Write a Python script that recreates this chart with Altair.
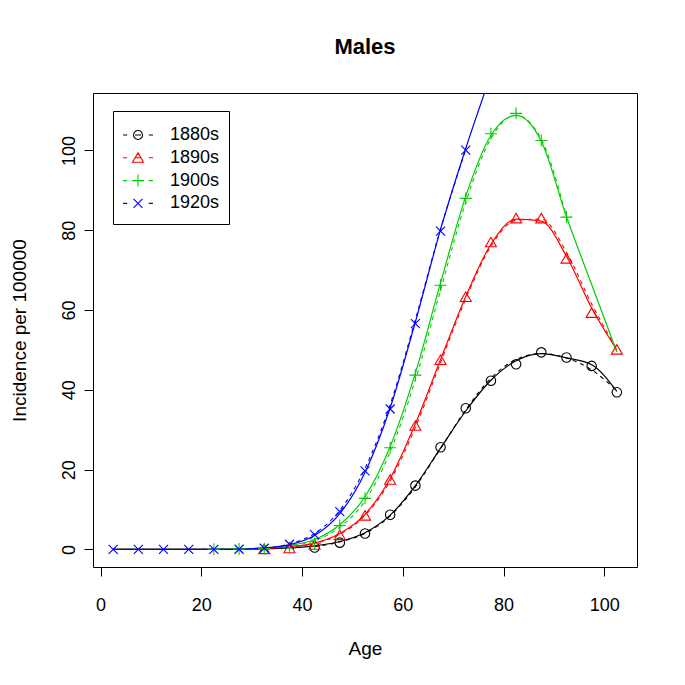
import altair as alt
import pandas as pd

cohorts = ["1880s", "1890s", "1900s", "1920s"]
colors = ["#000000", "#FF0000", "#00CD00", "#0000FF"]

# fitted curve ages (full range)
fit_ages = [2.5, 7.5, 12.5, 17.5, 22.5, 27.5, 32.5, 37.5, 42.5, 47.5, 52.5,
            57.5, 62.5, 67.5, 72.5, 77.5, 82.5, 87.5, 92.5, 97.5, 102.5]

# observed ages per cohort
ages_1880 = [42.5, 47.5, 52.5, 57.5, 62.5, 67.5, 72.5, 77.5, 82.5, 87.5, 92.5, 97.5, 102.5]
ages_1890 = [32.5, 37.5, 42.5, 47.5, 52.5, 57.5, 62.5, 67.5, 72.5, 77.5, 82.5, 87.5, 92.5, 97.5, 102.5]
ages_1900 = [22.5, 27.5, 32.5, 37.5, 42.5, 47.5, 52.5, 57.5, 62.5, 67.5, 72.5, 77.5, 82.5, 87.5, 92.5]
ages_1920 = [2.5, 7.5, 12.5, 17.5, 22.5, 27.5, 32.5, 37.5, 42.5, 47.5, 52.5, 57.5, 62.5, 67.5, 72.5]

# observed incidence (points)
obs_1880 = [0.5, 1.7, 4.0, 8.7, 16.0, 25.6, 35.4, 42.3, 46.4, 49.4, 48.1, 46.0, 39.4]
obs_1890 = [0.1, 0.3, 1.2, 3.6, 8.5, 17.5, 31.0, 47.5, 63.3, 77.0, 83.0, 83.0, 72.9, 59.3, 50.1]
obs_1900 = [0.05, 0.1, 0.2, 0.4, 1.5, 6.0, 12.8, 25.5, 43.7, 66.2, 88.0, 104.2, 109.3, 102.5, 83.3]
obs_1920 = [0.0, 0.0, 0.0, 0.0, 0.02, 0.05, 0.3, 1.3, 3.7, 9.5, 19.7, 35.2, 56.6, 79.8, 100.1]

# dashed fitted curves (over observed ages)
dash_1880 = [0.7, 1.9, 4.0, 8.4, 15.7, 25.3, 35.0, 42.9, 47.6, 49.1, 48.0, 45.0, 39.8]
dash_1890 = [0.2, 0.6, 1.5, 3.8, 8.5, 17.2, 30.6, 46.8, 62.8, 76.0, 82.5, 82.8, 74.5, 61.5, 50.2]
dash_1900 = [0.05, 0.15, 0.35, 0.9, 2.2, 5.6, 12.2, 24.5, 42.5, 65.0, 87.0, 103.0, 108.8, 102.8, 83.4]
dash_1920 = [0.0, 0.0, 0.0, 0.01, 0.03, 0.1, 0.4, 1.4, 4.0, 9.8, 20.3, 36.3, 57.6, 80.3, 100.2]

# solid fitted curves (over full age range)
solid_1880 = [0.0, 0.0, 0.0, 0.0, 0.0, 0.05, 0.15, 0.4, 0.9, 2.0, 4.2, 8.6, 16.0, 25.4,
              34.7, 42.4, 47.3, 49.1, 48.0, 46.3, 39.6]
solid_1890 = [0.0, 0.0, 0.0, 0.0, 0.02, 0.08, 0.25, 0.7, 1.6, 4.0, 8.8, 17.8, 31.5, 47.6,
              63.4, 76.5, 82.8, 82.3, 73.5, 60.5, 50.0]
solid_1900 = [0.0, 0.0, 0.0, 0.0, 0.05, 0.15, 0.4, 1.0, 2.5, 6.2, 13.2, 25.8, 44.2, 66.8,
              88.5, 103.8, 108.8, 102.3, 83.4, 66.4, 49.5]
solid_1920_ages = [2.5, 7.5, 12.5, 17.5, 22.5, 27.5, 32.5, 37.5, 42.5, 47.5, 52.5,
                   57.5, 62.5, 67.5, 72.5, 77.5]
solid_1920 = [0.0, 0.0, 0.0, 0.01, 0.03, 0.1, 0.35, 1.2, 3.5, 9.0, 19.3, 35.5, 57.0,
              80.2, 100.5, 119.0]

x_ticks = [0, 20, 40, 60, 80, 100]
y_ticks = [0, 20, 40, 60, 80, 100]


def frame(ages, vals, cohort):
    return pd.DataFrame({"age": ages, "rate": vals, "cohort": cohort})


pts_df = pd.concat([
    frame(ages_1880, obs_1880, "1880s"),
    frame(ages_1890, obs_1890, "1890s"),
    frame(ages_1900, obs_1900, "1900s"),
    frame(ages_1920, obs_1920, "1920s"),
])
dash_df = pd.concat([
    frame(ages_1880, dash_1880, "1880s"),
    frame(ages_1890, dash_1890, "1890s"),
    frame(ages_1900, dash_1900, "1900s"),
    frame(ages_1920, dash_1920, "1920s"),
])
solid_df = pd.concat([
    frame(fit_ages, solid_1880, "1880s"),
    frame(fit_ages, solid_1890, "1890s"),
    frame(fit_ages, solid_1900, "1900s"),
    frame(solid_1920_ages, solid_1920, "1920s"),
])

FONT = "Liberation Sans"

x_enc = alt.X(
    "age:Q",
    scale=alt.Scale(domain=[-1.5, 106.5], nice=False, zero=False),
    axis=alt.Axis(values=x_ticks, title="Age", labelFontSize=18, titleFontSize=19,
                  labelPadding=20, titleX=272, titleY=81, titleBaseline="middle",
                  titleAlign="center"),
)
y_enc = alt.Y(
    "rate:Q",
    scale=alt.Scale(domain=[-4.4, 114.4], nice=False, zero=False),
    axis=alt.Axis(values=y_ticks, title="Incidence per 100000", labelFontSize=18,
                  titleFontSize=19, labelAngle=270, labelAlign="center",
                  labelBaseline="alphabetic", labelPadding=10,
                  titleX=-74, titleY=237, titleBaseline="middle", titleAlign="center",
                  titleAngle=270),
)

cscale = alt.Scale(domain=cohorts, range=colors)

point_paths = [
    "M0.79,0A0.79,0.79,0,1,1,-0.79,0A0.79,0.79,0,1,1,0.79,0Z",
    "M0,-0.82L0.92,0.76L-0.92,0.76Z",
    "M-1,0L1,0M0,-1L0,1",
    "M-0.75,-0.75L0.75,0.75M-0.75,0.75L0.75,-0.75",
]
legend_paths = [
    "M-1,0L-0.72,0M-0.2,0L0.2,0M0.72,0L1,0M0.3,0A0.3,0.3,0,1,1,-0.3,0A0.3,0.3,0,1,1,0.3,0Z",
    "M-1,0L-0.72,0M-0.2,0L0.2,0M0.72,0L1,0M0,-0.33L0.37,0.3L-0.37,0.3Z",
    "M-1,0L-0.72,0M0.72,0L1,0M-0.4,0L0.4,0M0,-0.4L0,0.4",
    "M-1,0L-0.72,0M0.72,0L1,0M-0.3,-0.3L0.3,0.3M-0.3,0.3L0.3,-0.3",
]

dashed = alt.Chart(dash_df).mark_line(
    strokeDash=[4, 4], strokeWidth=1.1, interpolate="monotone", clip=True
).encode(x=x_enc, y=y_enc, color=alt.Color("cohort:N", scale=cscale, legend=None))

solid = alt.Chart(solid_df).mark_line(
    strokeWidth=1.2, interpolate="monotone", clip=True
).encode(x=x_enc, y=y_enc, color=alt.Color("cohort:N", scale=cscale, legend=None))

points = alt.Chart(pts_df).mark_point(
    filled=False, size=144, strokeWidth=1.1, opacity=1, clip=True
).encode(
    x=x_enc, y=y_enc,
    color=alt.Color("cohort:N", scale=cscale, legend=None),
    shape=alt.Shape("cohort:N", scale=alt.Scale(domain=cohorts, range=point_paths), legend=None),
)

main = alt.layer(dashed, solid, points)

leg = alt.Legend(
    orient="none", legendX=20, legendY=18, title=" ", titleFontSize=1, titlePadding=3,
    fillColor="white", strokeColor="black", padding=9,
    labelFont=FONT, labelFontSize=18, labelColor="black",
    symbolSize=900, symbolStrokeWidth=1.1, symbolOffset=0, labelOffset=16,
    clipHeight=22, rowPadding=0.8,
)

legend_layer = alt.Chart(pts_df).transform_filter("datum.rate < -1000").mark_point(
    filled=False, opacity=1, strokeWidth=1.1
).encode(
    x=x_enc, y=y_enc,
    color=alt.Color("cohort:N", scale=alt.Scale(domain=cohorts, range=colors), legend=leg),
    shape=alt.Shape("cohort:N", scale=alt.Scale(domain=cohorts, range=legend_paths), legend=leg),
)

chart = alt.layer(main, legend_layer).resolve_scale(
    color="independent", shape="independent"
).properties(
    width=544, height=474,
    title=alt.TitleParams("Males", fontSize=22, fontWeight="bold", font=FONT,
                          anchor="middle", frame="group", offset=34, color="black"),
    autosize=alt.AutoSizeParams(type="none"),
    padding={"left": 85, "top": 85, "right": 40, "bottom": 110},
).configure_view(
    stroke="black", strokeWidth=1
).configure_axis(
    grid=False, domain=False, tickColor="black", tickSize=9, tickWidth=1,
    labelColor="black", titleColor="black", labelFont=FONT, titleFont=FONT,
    titleFontWeight="normal",
)

chart.save("out.html", embed_options={"renderer": "svg", "actions": False})
